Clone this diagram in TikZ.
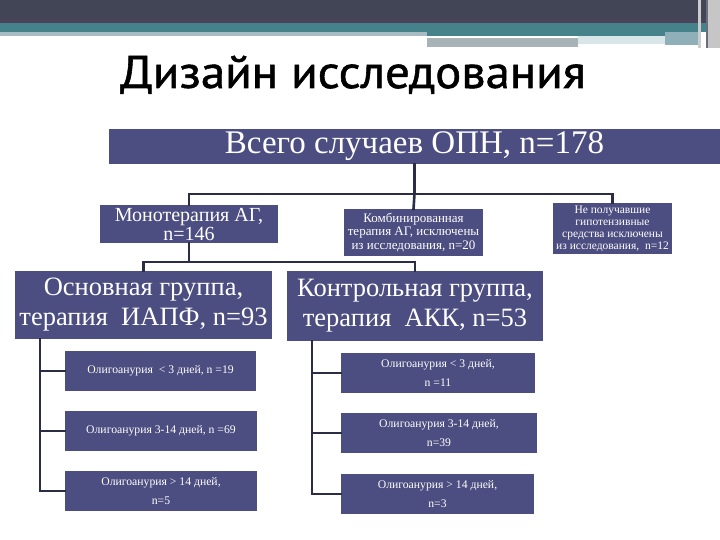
\documentclass[tikz,border=0pt]{standalone}
\usepackage{fontspec}
\setmainfont{Liberation Serif}
\newfontfamily\titlefont[FakeBold=1.2,FakeStretch=1.06]{PT Sans}
\definecolor{boxc}{RGB}{76,77,128}
\definecolor{linec}{RGB}{43,45,70}
\definecolor{hdark}{RGB}{65,69,86}
\definecolor{hpurp}{RGB}{74,68,88}
\definecolor{hteal}{RGB}{70,130,137}
\definecolor{hlight}{RGB}{169,187,194}
\definecolor{hgray}{RGB}{167,179,182}
\definecolor{hpale}{RGB}{216,230,234}
\definecolor{hmid}{RGB}{143,176,184}
\begin{document}
\begin{tikzpicture}[x=1pt,y=-1pt,
  box/.style={draw=none, fill=boxc, text=white, inner sep=0pt, outer sep=0pt,
              anchor=north west, align=center},
  conn/.style={draw=linec, line width=2.6pt, line cap=rect}]
\useasboundingbox (0,0) rectangle (720,540);
\fill[white] (0,0) rectangle (720,540);
% header bands
\fill[hdark] (0,0) rectangle (720,19);
\fill[hpurp] (0,19) rectangle (720,23);
\fill[hteal] (0,23) rectangle (720,32);
\fill[hlight] (0,32) rectangle (427,36);
\fill[hteal] (427,32) rectangle (665,36);
\fill[hgray] (427,38) rectangle (578,47);
\fill[hpale] (578,36) rectangle (665,44);
\fill[hmid] (665,32) rectangle (698,45);
\fill[gray!40] (698,0) rectangle (701,48);
\fill[linec!70] (706,0) rectangle (708,48);
\fill[gray!45] (708,0) rectangle (720,48);
% title
\node[anchor=base west, inner sep=0pt, font=\titlefont\fontsize{46}{46}\selectfont] (title) at (120,88) {Дизайн исследования};
% boxes
\node[box, minimum width=611pt, minimum height=35pt, font=\fontsize{33}{34}\selectfont] (main) at (109,129) {Всего случаев ОПН, n=178};
\node[box, minimum width=178pt, minimum height=38pt, font=\fontsize{20}{19}\selectfont] (mono) at (100,205) {Монотерапия АГ,\\ n=146};
\node[box, minimum width=139pt, minimum height=47pt, font=\fontsize{13}{13.5}\selectfont] (comb) at (344,209) {Комбинированная\\ терапия АГ, исключены\\ из исследования, n=20};
\node[box, minimum width=119pt, minimum height=51pt, font=\fontsize{11.5}{12}\selectfont] (none) at (553,203) {Не получавшие\\ гипотензивные\\ средства исключены\\ из исследования,\ \ n=12};
\node[box, minimum width=257pt, minimum height=68pt, font=\fontsize{26.5}{30}\selectfont] (osn) at (15,271) {Основная группа,\\ терапия\ \ ИАПФ, n=93};
\node[box, minimum width=256pt, minimum height=70pt, font=\fontsize{26.5}{30}\selectfont] (kontr) at (287,271) {Контрольная группа,\\ терапия\ \ АКК, n=53};
\tikzset{sub/.style={box, minimum height=40pt, font=\fontsize{11.7}{19}\selectfont}}
\node[sub, minimum width=191pt] (l1) at (65,351) {Олигоанурия\ \ < 3 дней, n =19};
\node[sub, minimum width=192pt] (l2) at (65,411) {Олигоанурия 3-14 дней, n =69};
\node[sub, minimum width=192pt] (l3) at (65,471) {Олигоанурия > 14 дней,\\ n=5};
\node[sub, minimum width=194pt] (r1) at (341,353) {Олигоанурия < 3 дней,\\ n =11};
\node[sub, minimum width=196pt] (r2) at (341,413) {Олигоанурия 3-14 дней,\\ n=39};
\node[sub, minimum width=193pt] (r3) at (341,474) {Олигоанурия > 14 дней,\\ n=3};
% connectors
\coordinate (j1) at ([yshift=-30pt]main.south);
\draw[conn] (main.south) -- (j1);
\draw[conn] (mono.north) |- (j1) -| (none.north);
\draw[conn] (j1) -- (comb.north);
\coordinate (j2) at ([yshift=-19pt]mono.south);
\draw[conn] (mono.south) -- (j2);
\draw[conn] (osn.north) |- (j2) -| (kontr.north);
\coordinate (lv) at ([xshift=25pt]osn.south west);
\draw[conn] (lv) |- (l1.west);
\draw[conn] (lv) |- (l2.west);
\draw[conn] (lv) |- (l3.west);
\coordinate (rv) at ([xshift=25pt]kontr.south west);
\draw[conn] (rv) |- (r1.west);
\draw[conn] (rv) |- (r2.west);
\draw[conn] (rv) |- (r3.west);
\end{tikzpicture}
\end{document}
